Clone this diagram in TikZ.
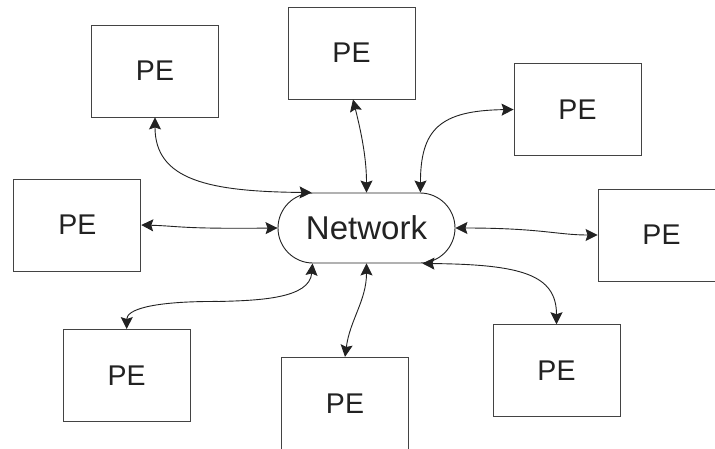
\documentclass[tikz,border=0pt]{standalone}
\usepackage{fontspec}
\setmainfont{Liberation Sans}
\usetikzlibrary{arrows.meta,calc}
\definecolor{ink}{HTML}{222222}
\begin{document}
\begin{tikzpicture}[x=1pt,y=-1pt,
  pe/.style={draw=ink!85, line width=0.9pt, minimum width=127pt, minimum height=92pt, inner sep=0pt,
    text=ink, font=\fontsize{28.5}{30}\selectfont},
  netw/.style={draw=ink, line width=0.9pt, rounded corners=35pt, minimum width=177pt, minimum height=70pt,
    inner sep=0pt, text=ink, font=\fontsize{33}{35}\selectfont},
  conn/.style={draw=ink, line width=0.9pt,
    {Stealth[length=12pt,width=12pt,inset=2pt]}-{Stealth[length=12pt,width=12pt,inset=2pt]}}]
\clip (0,0) rectangle (715,448);
\fill[white] (0,0) rectangle (715,448);
\node[pe] (b1) at (155,71) {PE};
\node[pe] (b2) at (351.5,53) {PE};
\node[pe] (b3) at (577.5,109.5) {PE};
\node[pe] (b4) at (77.3,225) {PE};
\node[pe] (b5) at (661.5,235) {PE};
\node[pe] (b6) at (126.7,375.5) {PE};
\node[pe] (b7) at (345,403.3) {PE};
\node[pe] (b8) at (556.5,370.7) {PE};
\node[netw] (net) at (366.5,228) {Network};
% connectors
\draw[conn] (b1.south) .. controls ($(b1.south)+(0,63)$) and ($(net.north west)+(-68,-1)$) .. ($(net.north west)+(34,0)$);
\draw[conn] ($(b2.south)+(1.5,0)$) .. controls ($(b2.south)+(10.5,36)$) and ($(net.north)+(0,-33)$) .. (net.north);
\draw[conn] (b3.west) .. controls ($(b3.west)+(-74,1)$) and ($(net.north east)+(-35,-63)$) .. ($(net.north east)+(-35,0)$);
\draw[conn] (b4.east) .. controls ($(b4.east)+(38,1)$) and ($(net.west)+(-98,1)$) .. (net.west);
\draw[conn] (net.east) .. controls ($(net.east)+(85,0)$) and ($(b5.west)+(-40,0)$) .. (b5.west);
\draw[conn] ($(net.south east)+(-33,0)$) .. controls ($(net.south east)+(65,1)$) and ($(b8.north)+(0,-50)$) .. (b8.north);
\draw[conn] ($(net.south west)+(35,0)$) .. controls ($(net.south west)+(32,35)$) and ($(net.south west)+(-18,37)$) .. ($(net.south west)+(-58,38)$)
  .. controls ($(b6.north)+(23,-28)$) and ($(b6.north)+(0,-19)$) .. (b6.north);
\draw[conn] (net.south) .. controls ($(net.south)+(0,37)$) and ($(b7.north)+(5,-37)$) .. (b7.north);
\end{tikzpicture}
\end{document}
